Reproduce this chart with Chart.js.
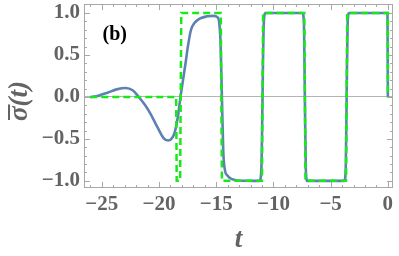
<!DOCTYPE html>
<html>
<head>
<meta charset="utf-8">
<script src="https://cdn.jsdelivr.net/npm/chart.js@4/dist/chart.umd.min.js"></script>
<style>
  html, body { margin: 0; padding: 0; background: #fff; }
  #wrap { width: 399px; height: 256px; }
</style>
</head>
<body>
<div id="wrap"><canvas id="c" width="399" height="256"></canvas></div>
<script>
// blue: smooth sigma-bar(t)
const blueT = [-26, -25.3, -24.5, -23.7, -22.9, -22.3, -21.8, -21.2, -20.7, -20.1, -19.6, -19.2, -18.85, -18.6, -18.35,
  -18.12, -17.9, -17.7, -17.45, -17.2, -16.9, -16.4, -15.8, -15.2, -14.9, -14.75, -14.62, -14.5, -14.38, -14.25,
  -14.0, -13.6, -13.1, -11.2, -11.05, -10.95, -10.85, -10.7, -7.45, -7.33, -7.25, -7.17, -7.05, -3.8, -3.68, -3.6,
  -3.52, -3.4, -0.03, 0];
const blueY = [-0.005, 0.015, 0.05, 0.09, 0.107, 0.08, 0.005, -0.1, -0.21, -0.37, -0.49, -0.52, -0.49, -0.41, -0.24,
  0, 0.2, 0.38, 0.62, 0.8, 0.88, 0.935, 0.96, 0.965, 0.95, 0.9, 0.65, 0, -0.65, -0.86,
  -0.94, -0.98, -0.995, -1, -0.85, 0, 0.85, 1, 1, 0.85, 0, -0.85, -1, -1, -0.85, 0,
  0.85, 1, 1, 0];

// green dashed: square-wave approximation
const greenT = [-26, -18.5, -18.45, -18.15, -18.05, -14.6, -14.5, -11.0, -10.9, -7.3, -7.2, -3.65, -3.55, 0, 0];
const greenY = [0, 0, -1, -1, 1, 1, -1, -1, 1, 1, -1, -1, 1, 1, 0];

const xTicks = [-25, -20, -15, -10, -5, 0];
const yTicks = [-1, -0.5, 0, 0.5, 1];

const grey = '#636363';
const frameGrey = '#a8a8a8';
const serif = '"Liberation Serif", serif';
const fmtNum = (v, d) => (v < 0 ? '\u2212' : '') + Math.abs(v).toFixed(d);

const toPts = (xs, ys) => xs.map((x, i) => ({ x: x, y: ys[i] }));

// frame with inward ticks on all four sides, panel label, y title with overline
const framePlugin = {
  id: 'frame',
  beforeDatasetsDraw(chart) {
    const { ctx, chartArea: a, scales } = chart;
    const xs = scales.x, ys = scales.y;
    ctx.save();
    ctx.strokeStyle = frameGrey;
    ctx.lineWidth = 1;
    ctx.strokeRect(a.left + 0.5, a.top + 0.5, a.right - a.left - 1, a.bottom - a.top - 1);
    ctx.beginPath();
    for (let v = -26; v <= 0; v += 1) {
      const px = Math.round(xs.getPixelForValue(v)) + 0.5;
      const len = v % 5 === 0 ? 6 : 3;
      ctx.moveTo(px, a.bottom); ctx.lineTo(px, a.bottom - len);
      ctx.moveTo(px, a.top); ctx.lineTo(px, a.top + len);
    }
    for (let k = -10; k <= 10; k++) {
      const v = k / 10;
      const py = Math.round(ys.getPixelForValue(v)) + 0.5;
      const len = k % 5 === 0 ? 6 : 3;
      ctx.moveTo(a.left, py); ctx.lineTo(a.left + len, py);
      ctx.moveTo(a.right, py); ctx.lineTo(a.right - len, py);
    }
    ctx.stroke();
    ctx.restore();
  },
  afterDatasetsDraw(chart) {
    const { ctx, scales, chartArea: a } = chart;
    ctx.save();
    ctx.fillStyle = '#000';
    ctx.font = 'bold 20px ' + serif;
    ctx.textAlign = 'center';
    ctx.textBaseline = 'middle';
    ctx.fillText('(b)', scales.x.getPixelForValue(-23.86), scales.y.getPixelForValue(0.74));
    ctx.restore();

    // y axis title: sigma with overline, then (t)
    ctx.save();
    ctx.translate(27, (a.top + a.bottom) / 2 + 5);
    ctx.rotate(-Math.PI / 2);
    ctx.fillStyle = grey;
    ctx.font = 'italic bold 27px ' + serif;
    ctx.textBaseline = 'alphabetic';
    ctx.textAlign = 'left';
    const full = '\u03C3(t)';
    const wFull = ctx.measureText(full).width;
    const wSig = ctx.measureText('\u03C3').width;
    const x0 = -wFull / 2;
    ctx.fillText(full, x0, 0);
    ctx.fillRect(x0 + 1, -19, wSig + 1, 2);
    ctx.restore();
  }
};

new Chart(document.getElementById('c'), {
  type: 'line',
  data: {
    datasets: [
      {
        data: toPts(greenT, greenY),
        borderColor: '#18ea18',
        borderWidth: 2.5,
        borderDash: [7, 4],
        pointRadius: 0,
        tension: 0,
        fill: false
      },
      {
        data: toPts(blueT, blueY),
        borderColor: '#5e81b5',
        borderWidth: 2.6,
        pointRadius: 0,
        cubicInterpolationMode: 'monotone',
        fill: false
      }
    ]
  },
  options: {
    responsive: false,
    animation: false,
    events: [],
    layout: { padding: { top: 4, right: 6, left: 0, bottom: 0 } },
    plugins: { legend: { display: false }, tooltip: { enabled: false } },
    scales: {
      x: {
        type: 'linear',
        min: -26.55,
        max: 0.45,
        afterBuildTicks: s => { s.ticks = xTicks.map(v => ({ value: v })); },
        afterFit: s => { s.height = 68; s.paddingLeft = 0; s.paddingRight = 0; },
        grid: { display: false, drawTicks: false },
        border: { display: false },
        ticks: {
          padding: 4,
          color: grey,
          font: { family: serif, weight: 'bold', size: 21 },
          maxRotation: 0,
          callback: v => fmtNum(v, 0)
        },
        title: {
          display: true,
          text: 't',
          color: grey,
          font: { family: serif, weight: 'bold', style: 'italic', size: 27 },
          padding: { top: 0, bottom: 0 }
        }
      },
      y: {
        min: -1.085,
        max: 1.107,
        afterBuildTicks: s => { s.ticks = yTicks.map(v => ({ value: v })); },
        afterFit: s => { s.width = 84; s.paddingTop = 0; s.paddingBottom = 0; },
        grid: {
          drawTicks: false,
          lineWidth: 1,
          color: c => (c.tick && c.tick.value === 0 ? '#b4b4b4' : 'rgba(0,0,0,0)')
        },
        border: { display: false },
        ticks: {
          padding: 4,
          color: grey,
          font: { family: serif, weight: 'bold', size: 21 },
          callback: v => fmtNum(v, 1)
        },
        title: { display: false }
      }
    }
  },
  plugins: [framePlugin]
});
</script>
</body>
</html>
